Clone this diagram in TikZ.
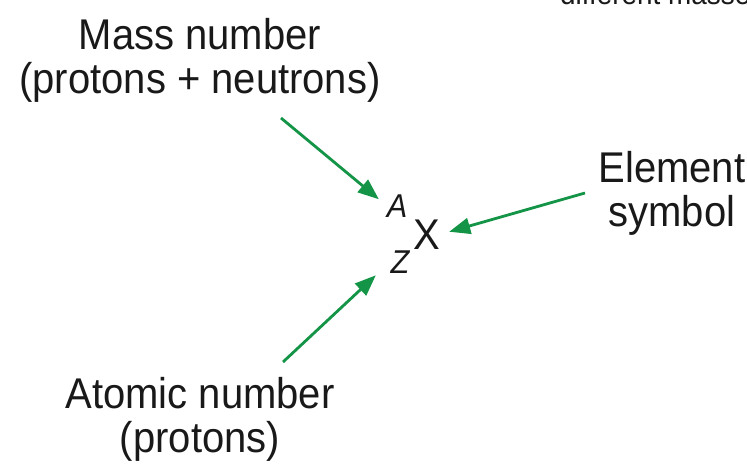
\documentclass[tikz,border=0pt]{standalone}
\usepackage{fontspec}
\setmainfont{Liberation Sans}[FakeStretch=0.93]
\usetikzlibrary{arrows.meta}
\definecolor{arrgreen}{RGB}{20,148,70}
\definecolor{ink}{RGB}{25,25,25}
\tikzset{
  lbl/.style={text=ink, font=\fontsize{43}{44}\selectfont, align=center, inner sep=0pt, anchor=base},
  arr/.style={draw=arrgreen, line width=2.8pt, -{Triangle[length=21pt,width=16pt]}},
}
\begin{document}
\begin{tikzpicture}[x=1pt,y=-1pt]
\clip (0,0) rectangle (747,469);
\fill[white] (0,0) rectangle (747,469);
% cropped heading at top edge
\node[text=ink, font=\fontsize{30}{32}\selectfont, inner sep=0pt, anchor=base west] (head) at (560,4) {different masses};
% labels (base anchor = baseline of last line)
\node[lbl] (mass) at (200,93) {Mass number\\(protons + neutrons)};
\node[lbl] (elem) at (672,226) {Element\\symbol};
\node[lbl] (atom) at (200,452) {Atomic number\\(protons)};
% isotope symbol
\node[text=ink, font=\fontsize{43}{43}\selectfont, inner sep=0pt, anchor=base] (X) at (427,249) {X};
\node[text=ink, font=\fontsize{33}{33}\selectfont\itshape, inner sep=0pt, anchor=base] (A) at (397,217) {A};
\node[text=ink, font=\fontsize{33}{33}\selectfont\itshape, inner sep=0pt, anchor=base] (Z) at (400,273) {Z};
% arrow tails
\coordinate (mtail) at (281,118);
\coordinate (etail) at (585,193);
\coordinate (atail) at (283,362);
\draw[arr, shorten >=10pt] (mtail) -- (A.west);
\draw[arr, shorten >=9pt] (etail) -- (X.east);
\draw[arr, shorten >=20pt] (atail) -- (Z.west);
\end{tikzpicture}
\end{document}
